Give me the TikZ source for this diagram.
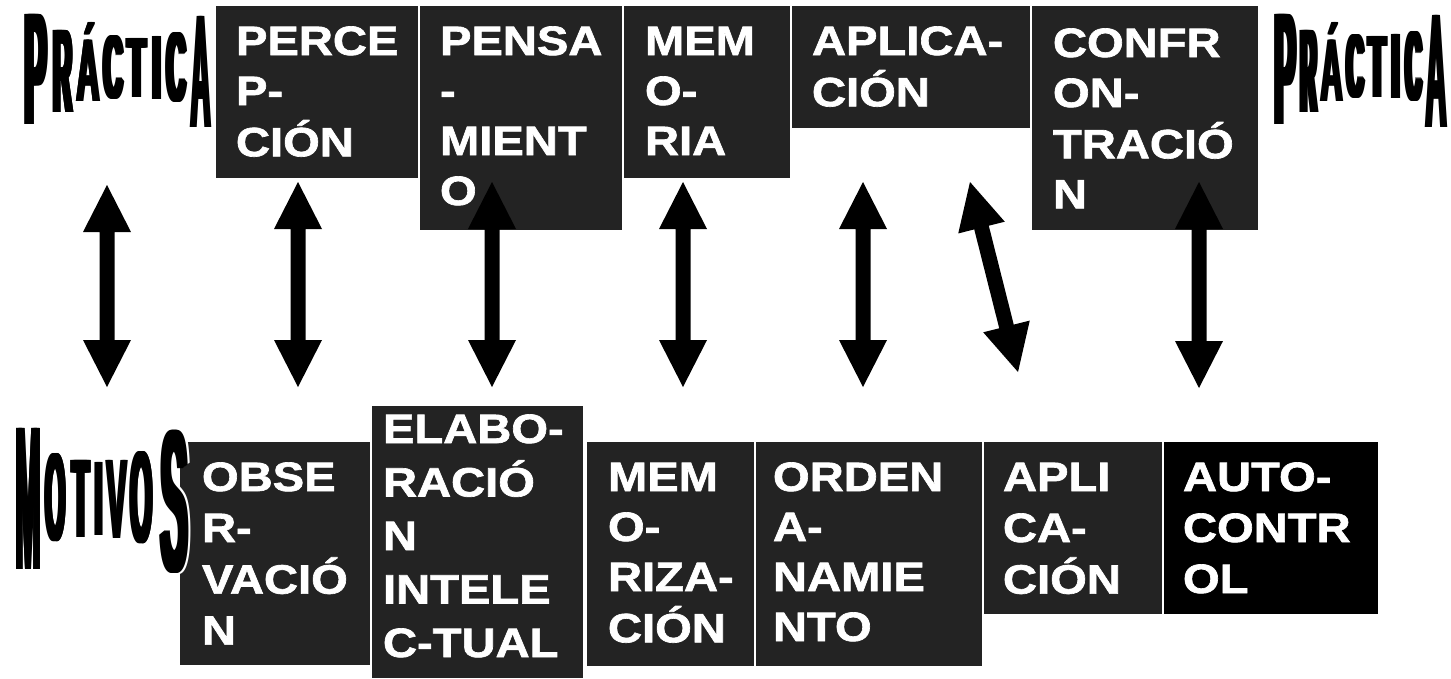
\documentclass[tikz,border=0pt]{standalone}
\usepackage{fontspec}
\usepackage{graphicx}
\setmainfont{Liberation Sans}
\newfontfamily\boxfont{Liberation Sans}[FakeStretch=1.15,FakeBold=1.6]
\newfontfamily\wafont{Liberation Sans}
\usetikzlibrary{calc}
\definecolor{boxgray}{HTML}{232323}
\tikzset{
  box/.style={fill=boxgray, inner sep=0pt, outer sep=0pt, anchor=north west},
  lbl/.style={text=white, inner sep=0pt, outer sep=0pt, anchor=base west,
    font=\boxfont\bfseries\fontsize{41}{#1}\selectfont},
  lbl/.default=50,
  waglyph/.style={inner sep=0pt, outer sep=0pt, anchor=south west},
}
% double-headed thick arrow between two named coordinates
\newcommand\dblarr[2]{%
  \fill[black] (#1)
   -- ($(#1)!47pt!(#2)!24pt!90:(#2)$)
   -- ($(#1)!47pt!(#2)!7.5pt!90:(#2)$)
   -- ($(#2)!47pt!(#1)!7.5pt!-90:(#1)$)
   -- ($(#2)!47pt!(#1)!24pt!-90:(#1)$)
   -- (#2)
   -- ($(#2)!47pt!(#1)!24pt!90:(#1)$)
   -- ($(#2)!47pt!(#1)!7.5pt!90:(#1)$)
   -- ($(#1)!47pt!(#2)!7.5pt!-90:(#2)$)
   -- ($(#1)!47pt!(#2)!24pt!-90:(#2)$)
   -- cycle;}
% word-art letter: [thickening], name, glyph, x0, x1, ytop, ybot
\newcommand\waletter[7][5]{%
  \pgfmathsetmacro\wW{#5-#4-#1}\pgfmathsetmacro\wH{#7-#6}%
  \node[waglyph] (#2) at (#4,#7) {\def\g{\resizebox{\wW pt}{\wH pt}{\wafont\bfseries #3}}%
    \rlap{\g}\foreach \k in {1,...,#1}{\kern1pt\rlap{\g}}\kern\wW pt};}
\newcommand\wahalo[7][9]{%
  \pgfmathsetmacro\wW{#5-#4-#1+4}\pgfmathsetmacro\wH{#7-#6+4}%
  \node[waglyph, text=white] (#2) at (#4-2,#7+2) {\def\g{\resizebox{\wW pt}{\wH pt}{\wafont\bfseries #3}}%
    \rlap{\g}\foreach \k in {1,...,#1}{\kern1pt\rlap{\g}}\kern\wW pt};}
\begin{document}
\begin{tikzpicture}[x=1pt,y=-1pt]
\useasboundingbox (0,0) rectangle (1451,678);

% ---------- top boxes ----------
\node[box, minimum width=202pt, minimum height=172pt] (perc) at (216,6) {};
\node[lbl] (percT) at ($(perc.north west)+(20,49)$) {\begin{tabular}[t]{@{}l@{}}PERCE\\P-\\CIÓN\end{tabular}};
\node[box, minimum width=202pt, minimum height=224pt] (pens) at (420,6) {};
\node[lbl] (pensT) at ($(pens.north west)+(20,49)$) {\begin{tabular}[t]{@{}l@{}}PENSA\\-\\MIENT\\O\end{tabular}};
\node[box, minimum width=166pt, minimum height=172pt] (mem) at (624,6) {};
\node[lbl] (memT) at ($(mem.north west)+(21,49)$) {\begin{tabular}[t]{@{}l@{}}MEM\\O-\\RIA\end{tabular}};
\node[box, minimum width=238pt, minimum height=122pt] (apl) at (792,6) {};
\node[lbl] (aplT) at ($(apl.north west)+(20,49)$) {\begin{tabular}[t]{@{}l@{}}APLICA-\\CIÓN\end{tabular}};
\node[box, minimum width=226pt, minimum height=224pt] (conf) at (1032,6) {};
\node[lbl] (confT) at ($(conf.north west)+(21,51)$) {\begin{tabular}[t]{@{}l@{}}CONFR\\ON-\\TRACIÓ\\N\end{tabular}};

% ---------- bottom boxes ----------
\node[box, minimum width=190pt, minimum height=223pt] (obs) at (180,442) {};
\node[lbl=51] (obsT) at ($(obs.north west)+(22,49)$) {\begin{tabular}[t]{@{}l@{}}OBSE\\R-\\VACIÓ\\N\end{tabular}};
\node[box, minimum width=211pt, minimum height=272pt] (elab) at (372,406) {};
\node[lbl=53.5] (elabT) at ($(elab.north west)+(11,37)$) {\begin{tabular}[t]{@{}l@{}}ELABO-\\RACIÓ\\N\\INTELE\\C-TUAL\end{tabular}};
\node[box, minimum width=167pt, minimum height=224pt] (memz) at (587,442) {};
\node[lbl] (memzT) at ($(memz.north west)+(21,49)$) {\begin{tabular}[t]{@{}l@{}}MEM\\O-\\RIZA-\\CIÓN\end{tabular}};
\node[box, minimum width=226pt, minimum height=224pt] (ord) at (756,442) {};
\node[lbl] (ordT) at ($(ord.north west)+(17,49)$) {\begin{tabular}[t]{@{}l@{}}ORDEN\\A-\\NAMIE\\NTO\end{tabular}};
\node[box, minimum width=178pt, minimum height=172pt] (apl2) at (984,442) {};
\node[lbl=51] (apl2T) at ($(apl2.north west)+(19,49)$) {\begin{tabular}[t]{@{}l@{}}APLI\\CA-\\CIÓN\end{tabular}};
\node[box, fill=black, minimum width=214pt, minimum height=172pt] (auto) at (1164,442) {};
\node[lbl=51] (autoT) at ($(auto.north west)+(19,49)$) {\begin{tabular}[t]{@{}l@{}}AUTO-\\CONTR\\OL\end{tabular}};

% ---------- arrows ----------
\coordinate (a1t) at (107,185); \coordinate (a1b) at (107,387);
\coordinate (a2t) at (298,182); \coordinate (a2b) at (298,387);
\coordinate (a3t) at (492,182); \coordinate (a3b) at (492,387);
\coordinate (a4t) at (683,182); \coordinate (a4b) at (683,387);
\coordinate (a5t) at (863,182); \coordinate (a5b) at (863,387);
\coordinate (a6t) at (970,182); \coordinate (a6b) at (1018,372);
\coordinate (a7t) at (1199,182); \coordinate (a7b) at (1199,388);
\dblarr{a1t}{a1b}
\dblarr{a2t}{a2b}
\dblarr{a3t}{a3b}
\dblarr{a4t}{a4b}
\dblarr{a5t}{a5b}
\dblarr{a6t}{a6b}
\dblarr{a7t}{a7b}

% ---------- word art: PRÁCTICA (left) ----------
\waletter{pl1}{P}{23}{50}{14}{124}
\waletter{pl2}{R}{51}{75}{30}{112}
\waletter[3]{pl3}{Á}{75}{101}{22}{101}
\waletter{pl4}{C}{101}{125}{36}{99}
\waletter{pl5}{T}{125}{148}{38}{97}
\waletter{pl6}{I}{150}{163}{36}{99}
\waletter{pl7}{C}{164}{188}{33}{102}
\waletter[3]{pl8}{A}{189}{212}{16}{127}

% ---------- word art: PRÁCTICA (right) ----------
\waletter{pr1}{P}{1272}{1298}{14}{124}
\waletter{pr2}{R}{1298}{1319}{30}{112}
\waletter[3]{pr3}{Á}{1319}{1344}{22}{101}
\waletter{pr4}{C}{1344}{1366}{35}{98}
\waletter{pr5}{T}{1366}{1388}{36}{97}
\waletter{pr6}{I}{1389}{1402}{34}{98}
\waletter{pr7}{C}{1403}{1424}{32}{101}
\waletter[3]{pr8}{A}{1424}{1448}{15}{127}

% ---------- word art: MOTIVOS ----------
\waletter[3]{m1}{M}{14}{42}{428}{569}
\waletter{m2}{O}{43}{68}{455}{542}
\waletter{m3}{T}{70}{92}{460}{537}
\waletter{m4}{I}{93}{104}{462}{535}
\waletter[3]{m5}{V}{105}{128}{460}{538}
\waletter{m6}{O}{128}{155}{453}{544}
\wahalo{m7h}{S}{158}{190}{432}{573}
\waletter{m7}{S}{158}{190}{432}{573}
\end{tikzpicture}
\end{document}
